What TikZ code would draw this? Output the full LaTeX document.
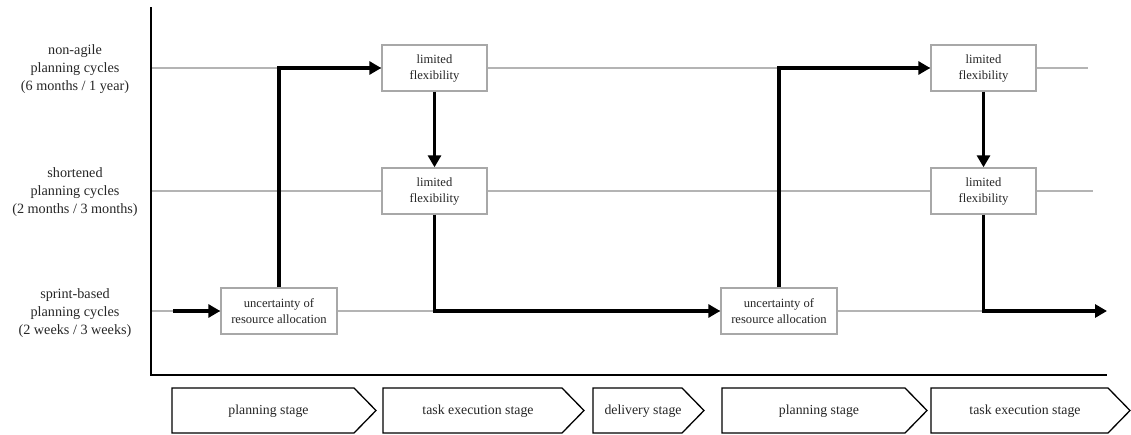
\documentclass[tikz,border=0pt]{standalone}
\usepackage{fontspec}
\setmainfont{Liberation Serif}
\usetikzlibrary{arrows.meta}
\definecolor{rowgray}{HTML}{B4B4B4}
\definecolor{boxgray}{HTML}{A8A8A8}
\definecolor{txt}{HTML}{262626}
\begin{document}
\begin{tikzpicture}[x=1pt,y=-1pt,
  rowline/.style={draw=rowgray,line width=1.2pt},
  axisline/.style={draw=black,line width=2pt},
  rowlabel/.style={align=center,text=txt,font=\fontsize{14.2}{18}\selectfont,inner sep=0pt},
  infobox/.style={draw=boxgray,line width=1.4pt,fill=white,align=center,text=txt,
    font=\fontsize{12.6}{16}\selectfont,inner sep=0pt,minimum height=46pt},
  uncbox/.style={infobox,minimum width=116pt},
  flexbox/.style={infobox,minimum width=105pt},
  flow/.style={draw=black,line width=3.8pt,-{Triangle[length=12pt,width=13pt]}},
  chev/.style={draw=black,line width=1.3pt,fill=white,line join=miter},
  stagetext/.style={text=txt,font=\fontsize{13.8}{16}\selectfont,inner sep=0pt}
]
\useasboundingbox (0,0) rectangle (1131,434);

% planning-cycle rows
\draw[rowline] (151,68) -- (1088,68);
\draw[rowline] (151,191) -- (1093,191);
\draw[rowline] (151,311) -- (983,311);

% axes
\draw[axisline] (151,7) -- (151,375) -- (1107,375);

% row labels
\node[rowlabel] (lbl1) at (75,69) {non-agile\\planning cycles\\(6 months / 1 year)};
\node[rowlabel] (lbl2) at (75,192) {shortened\\planning cycles\\(2 months / 3 months)};
\node[rowlabel] (lbl3) at (75,313) {sprint-based\\planning cycles\\(2 weeks / 3 weeks)};

% boxes
\node[uncbox] (u1) at (279,311) {uncertainty of\\resource allocation};
\node[flexbox] (f1) at (434.5,68) {limited\\flexibility};
\node[flexbox] (f2) at (434.5,191) {limited\\flexibility};
\node[uncbox] (u2) at (779,311) {uncertainty of\\resource allocation};
\node[flexbox] (f3) at (983.5,68) {limited\\flexibility};
\node[flexbox] (f4) at (983.5,191) {limited\\flexibility};

% flow path
\coordinate (start) at (173,311);
\coordinate (finish) at (1107,311);
\draw[flow] (start) -- (u1.west);
\draw[flow] (u1.north) |- (f1.west);
\draw[flow] (f1.south) -- (f2.north);
\draw[flow] (f2.south) |- (u2.west);
\draw[flow] (u2.north) |- (f3.west);
\draw[flow] (f3.south) -- (f4.north);
\draw[flow] (f4.south) |- (finish);

% stage chevrons
\newcommand{\stagechevron}[4]{%
  \draw[chev] (#1,388) -- (#2-22,388) -- (#2,410.5) -- (#2-22,433) -- (#1,433) -- cycle;
  \node[stagetext] (#3) at ({(#1+#2-11)/2},411) {#4};}
\stagechevron{172}{376}{s1}{planning stage}
\stagechevron{383}{584}{s2}{task execution stage}
\stagechevron{593}{704}{s3}{delivery stage}
\stagechevron{722}{927}{s4}{planning stage}
\stagechevron{931}{1130}{s5}{task execution stage}
\end{tikzpicture}
\end{document}
